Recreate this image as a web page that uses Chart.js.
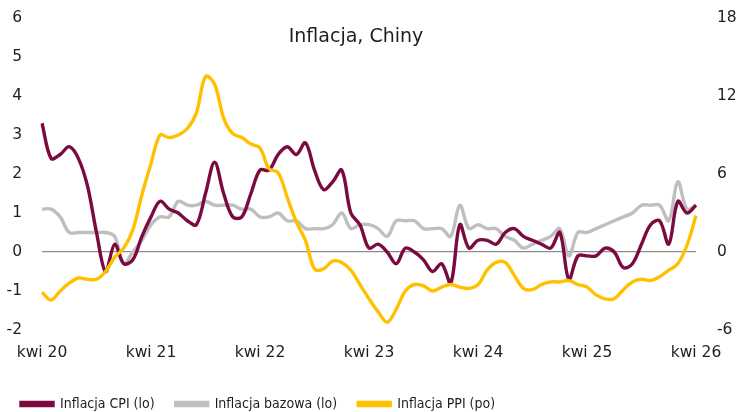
<!DOCTYPE html>
<html>
<head>
<meta charset="utf-8">
<script src="https://cdn.jsdelivr.net/npm/chart.js@4.4.1/dist/chart.umd.min.js"></script>
<style>
  html, body { margin: 0; padding: 0; background: #fff; }
  #wrap { position: relative; width: 738px; height: 412px; }
</style>
</head>
<body>
<div id="wrap"><canvas id="grafInflacja" width="738" height="412"></canvas></div>
<script>
// -------------------------
// Dane: kwi 2020 - kwi 2026, r/r %
// -------------------------
const skrotyMiesiecy = ["sty", "lut", "mar", "kwi", "maj", "cze", "lip", "sie", "wrz", "paź", "lis", "gru"];

const inflacjaCPI = [
  3.3, 2.4, 2.5, 2.7, 2.4, 1.7, 0.5, -0.5, 0.2,
  -0.3, -0.2, 0.4, 0.9, 1.3, 1.1, 1.0, 0.8, 0.7, 1.5, 2.3, 1.5,
  0.9, 0.9, 1.5, 2.1, 2.1, 2.5, 2.7, 2.5, 2.8, 2.1, 1.6, 1.8,
  2.1, 1.0, 0.7, 0.1, 0.2, 0.0, -0.3, 0.1, 0.0, -0.2, -0.5, -0.3,
  -0.8, 0.7, 0.1, 0.3, 0.3, 0.2, 0.5, 0.6, 0.4, 0.3, 0.2, 0.1,
  0.5, -0.7, -0.1, -0.1, -0.1, 0.1, 0.0, -0.4, -0.3, 0.2, 0.7, 0.8,
  0.2, 1.3, 1.0, 1.2
];

const inflacjaBazowa = [
  1.1, 1.1, 0.9, 0.5, 0.5, 0.5, 0.5, 0.5, 0.4,
  -0.3, 0.0, 0.3, 0.7, 0.9, 0.9, 1.3, 1.2, 1.2, 1.3, 1.2, 1.2,
  1.2, 1.1, 1.1, 0.9, 0.9, 1.0, 0.8, 0.8, 0.6, 0.6, 0.6, 0.7,
  1.0, 0.6, 0.7, 0.7, 0.6, 0.4, 0.8, 0.8, 0.8, 0.6, 0.6, 0.6,
  0.4, 1.2, 0.6, 0.7, 0.6, 0.6, 0.4, 0.3, 0.1, 0.2, 0.3, 0.4,
  0.6, -0.1, 0.5, 0.5, 0.6, 0.7, 0.8, 0.9, 1.0, 1.2, 1.2, 1.2,
  0.8, 1.8, 1.1, 1.2
];

const inflacjaPPI = [
  -3.1, -3.7, -3.0, -2.4, -2.0, -2.1, -2.1, -1.5, -0.4,
  0.3, 1.7, 4.4, 6.8, 9.0, 8.8, 9.0, 9.5, 10.7, 13.5, 12.9, 10.3,
  9.1, 8.8, 8.3, 8.0, 6.4, 6.1, 4.2, 2.3, 0.9, -1.3, -1.3, -0.7,
  -0.8, -1.4, -2.5, -3.6, -4.6, -5.4, -4.4, -3.0, -2.5, -2.6, -3.0, -2.7,
  -2.5, -2.7, -2.8, -2.5, -1.4, -0.8, -0.8, -1.8, -2.8, -2.9, -2.5, -2.3,
  -2.3, -2.2, -2.5, -2.7, -3.3, -3.6, -3.6, -2.9, -2.3, -2.1, -2.2, -1.9,
  -1.4, -0.9, 0.5, 2.8
];

// etykiety osi X: "kwi 20" ... (miesiące od kwietnia 2020)
const etykiety = [];
for (let i = 0; i < inflacjaCPI.length; i++) {
  const m = (3 + i) % 12;
  const rok = 20 + Math.floor((3 + i) / 12);
  etykiety.push(`${skrotyMiesiecy[m]} ${rok}`);
}

const tickiLewa = [-2, -1, 0, 1, 2, 3, 4, 5, 6];
const tickiPrawa = [-6, 0, 6, 12, 18];
const kolejnoscLegendy = ["Inflacja CPI (lo)", "Inflacja bazowa (lo)", "Inflacja PPI (po)"];

const kolory = {
  cpi: "#7a0a3f",
  bazowa: "#bfbfbf",
  ppi: "#ffc000",
  zero: "#8c8c8c",
  tekst: "#1e1e1e"
};

const FONT = "'DejaVu Sans', Verdana, sans-serif";

// tytuł rysowany wewnątrz obszaru wykresu
const tytulPlugin = {
  id: "tytul",
  afterDraw(chart) {
    const { ctx, chartArea } = chart;
    ctx.save();
    ctx.font = `19px ${FONT}`;
    ctx.fillStyle = kolory.tekst;
    ctx.textAlign = "center";
    ctx.textBaseline = "middle";
    ctx.fillText("Inflacja, Chiny", chartArea.left + 314, chartArea.top + 19);
    ctx.restore();
  }
};

// stała wysokość legendy (żeby obszar wykresu miał właściwą wysokość)
const legendaPlugin = {
  id: "legendaWysokosc",
  beforeInit(chart) {
    const lg = chart.legend;
    if (!lg) return;
    const orig = lg.fit;
    lg.fit = function () {
      orig.call(this);
      this.height = 36;
    };
  }
};

function linia(label, dane, kolor, os) {
  return {
    label,
    data: dane,
    borderColor: kolor,
    backgroundColor: kolor,
    borderWidth: 3.4,
    pointRadius: 0,
    tension: 0.35,
    yAxisID: os
  };
}

const ctx = document.getElementById("grafInflacja").getContext("2d");
new Chart(ctx, {
  type: "line",
  data: {
    labels: etykiety,
    datasets: [
      linia("Inflacja PPI (po)", inflacjaPPI, kolory.ppi, "y1"),
      linia("Inflacja CPI (lo)", inflacjaCPI, kolory.cpi, "y"),
      linia("Inflacja bazowa (lo)", inflacjaBazowa, kolory.bazowa, "y")
    ]
  },
  options: {
    responsive: false,
    animation: false,
    layout: { padding: { top: 18, left: 0, right: 0, bottom: 0 } },
    plugins: {
      legend: {
        position: "bottom",
        align: "start",
        labels: {
          boxWidth: 32,
          boxHeight: 3,
          padding: 21,
          color: kolory.tekst,
          font: { size: 14, family: "'DejaVu Sans Condensed', 'DejaVu Sans', sans-serif" },
          sort: (a, b) => kolejnoscLegendy.indexOf(a.text) - kolejnoscLegendy.indexOf(b.text)
        }
      },
      tooltip: { enabled: false }
    },
    scales: {
      x: {
        type: "category",
        afterFit: s => { s.height = 46; },
        grid: { display: false, drawTicks: false },
        border: { display: false },
        ticks: {
          autoSkip: false,
          maxRotation: 0,
          padding: 14,
          color: kolory.tekst,
          font: { size: 15.5, family: FONT },
          callback: function (val) {
            const l = this.getLabelForValue(val);
            return l.startsWith("kwi") ? l : "";
          }
        }
      },
      y: {
        position: "left",
        min: -2,
        max: 6,
        afterBuildTicks: s => { s.ticks = tickiLewa.map(v => ({ value: v })); },
        afterFit: s => { s.width = 42; },
        grid: {
          drawTicks: true,
          tickLength: 20,
          tickColor: "rgba(0,0,0,0)",
          lineWidth: 1.3,
          color: c => (c.tick && c.tick.value === 0 ? kolory.zero : "rgba(0,0,0,0)")
        },
        border: { display: false },
        ticks: { padding: 0, color: kolory.tekst, font: { size: 15.5, family: FONT } }
      },
      y1: {
        position: "right",
        min: -6,
        max: 18,
        afterBuildTicks: s => { s.ticks = tickiPrawa.map(v => ({ value: v })); },
        afterFit: s => { s.width = 42; },
        grid: {
          drawOnChartArea: false,
          drawTicks: true,
          tickLength: 21,
          tickColor: "rgba(0,0,0,0)",
          color: "rgba(0,0,0,0)"
        },
        border: { display: false },
        ticks: { padding: 0, color: kolory.tekst, font: { size: 15.5, family: FONT } }
      }
    }
  },
  plugins: [tytulPlugin, legendaPlugin]
});
</script>
</body>
</html>
